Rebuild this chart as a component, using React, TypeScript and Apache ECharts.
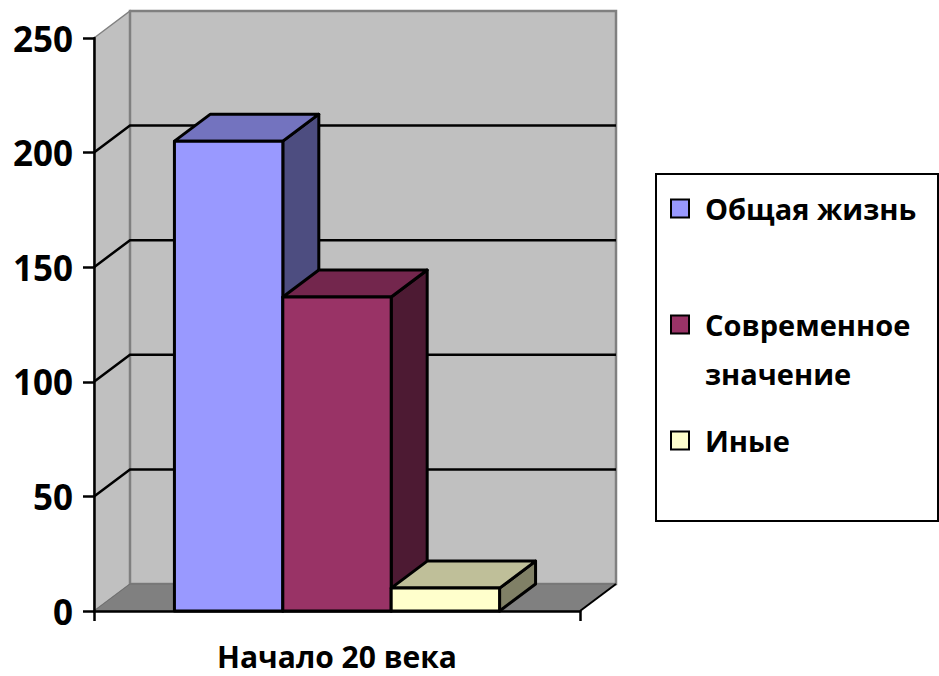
import React, { useEffect, useRef } from "react";
import * as echarts from "echarts";

const categories = ["Начало 20 века"];
const seriesNames = ["Общая жизнь", "Современное значение", "Иные"];
const seriesValues = [205, 137, 10];
const seriesColors = ["#9999FF", "#993366", "#FFFFCC"];
const yTicks = [0, 50, 100, 150, 200, 250];

const FONT = "'Open Sans', 'Noto Sans', sans-serif";
const DX = 36;
const DY = -27;
const GROUP_RATIO = 0.669;

function shade(hex: string, f: number): string {
  const n = parseInt(hex.slice(1), 16);
  const r = Math.round(((n >> 16) & 255) * f);
  const g = Math.round(((n >> 8) & 255) * f);
  const b = Math.round((n & 255) * f);
  return `rgb(${r},${g},${b})`;
}

export default function App() {
  const ref = useRef<HTMLDivElement>(null);
  useEffect(() => {
    if (!ref.current) return;
    const chart = echarts.init(ref.current, undefined, { renderer: "svg" });
    const yMin = yTicks[0];
    const yMax = yTicks[yTicks.length - 1];
    const gridValues = yTicks.filter((v) => v !== yMin && v !== yMax);

    const wallSeries: any = {
      type: "custom",
      silent: true,
      clip: false,
      data: [[0, yMin]],
      renderItem: (params: any, api: any) => {
        const base = api.coord([0, yMin]);
        const top = api.coord([0, yMax]);
        const bw = api.size([1, 0])[0];
        const x0 = base[0] - bw / 2;
        const x1 = base[0] + bw / 2;
        const y0 = base[1];
        const yT = top[1];
        return {
          type: "group",
          children: [
            {
              type: "polygon",
              shape: { points: [[x0, y0], [x0 + DX, y0 + DY], [x0 + DX, yT + DY], [x0, yT]] },
              style: { fill: "#C0C0C0", stroke: "#808080", lineWidth: 1.5 },
            },
            {
              type: "rect",
              shape: { x: x0 + DX, y: yT + DY, width: bw, height: y0 - yT },
              style: { fill: "#C0C0C0", stroke: "#808080", lineWidth: 2.5 },
            },
            {
              type: "polygon",
              shape: { points: [[x0, y0], [x0 + DX, y0 + DY], [x1 + DX, y0 + DY], [x1, y0]] },
              style: { fill: "#808080", stroke: "#707070", lineWidth: 1 },
            },
            {
              type: "line",
              shape: { x1: x1, y1: y0, x2: x1 + DX, y2: y0 + DY },
              style: { stroke: "#000", lineWidth: 2 },
            },
          ],
        };
      },
    };

    const gridSeries: any = {
      type: "custom",
      silent: true,
      clip: false,
      data: gridValues.map((v) => [0, v]),
      renderItem: (params: any, api: any) => {
        const p = api.coord([0, api.value(1)]);
        const bw = api.size([1, 0])[0];
        const x0 = p[0] - bw / 2;
        const x1 = p[0] + bw / 2;
        const y = p[1];
        return {
          type: "polyline",
          shape: { points: [[x0, y], [x0 + DX, y + DY], [x1 + DX, y + DY]] },
          style: { stroke: "#000", lineWidth: 2.5, fill: "none" },
        };
      },
    };

    const barSeries: any[] = seriesNames.map((name, i) => ({
      type: "custom",
      name,
      clip: false,
      itemStyle: { color: seriesColors[i] },
      data: [[0, seriesValues[i]]],
      renderItem: (params: any, api: any) => {
        const c = api.coord([api.value(0), api.value(1)]);
        const b = api.coord([api.value(0), 0]);
        const bandW = api.size([1, 0])[0];
        const groupW = bandW * GROUP_RATIO;
        const w = groupW / seriesNames.length;
        const xl = c[0] - groupW / 2 + i * w;
        const xr = xl + w;
        const yt = c[1];
        const yb = b[1];
        const col = seriesColors[i];
        const stroke = { stroke: "#000", lineWidth: 3, lineJoin: "round" };
        return {
          type: "group",
          children: [
            {
              type: "polygon",
              shape: { points: [[xr, yb], [xr + DX, yb + DY], [xr + DX, yt + DY], [xr, yt]] },
              style: { fill: shade(col, 0.5), ...stroke },
            },
            {
              type: "polygon",
              shape: { points: [[xl, yt], [xl + DX, yt + DY], [xr + DX, yt + DY], [xr, yt]] },
              style: { fill: shade(col, 0.75), ...stroke },
            },
            {
              type: "rect",
              shape: { x: xl, y: yt, width: w, height: yb - yt },
              style: { fill: col, ...stroke },
            },
          ],
        };
      },
    }));

    chart.setOption({
      animation: false,
      backgroundColor: "#ffffff",
      grid: { left: 94, top: 38, width: 486, height: 573, containLabel: false },
      xAxis: {
        type: "category",
        data: categories,
        boundaryGap: true,
        z: 5,
        axisLine: { show: true, lineStyle: { color: "#000", width: 2.5 } },
        axisTick: { show: true, length: 10, lineStyle: { color: "#000", width: 2.5 } },
        axisLabel: {
          margin: 30,
          color: "#000",
          fontFamily: FONT,
          fontWeight: "bold",
          fontSize: 30,
        },
        splitLine: { show: false },
      },
      yAxis: {
        type: "value",
        min: yMin,
        max: yMax,
        interval: 50,
        z: 5,
        axisLine: { show: true, lineStyle: { color: "#000", width: 2.5 } },
        axisTick: { show: true, length: 11, lineStyle: { color: "#000", width: 2.5 } },
        axisLabel: {
          margin: 21,
          color: "#000",
          fontFamily: FONT,
          fontWeight: "bold",
          fontSize: 35,
        },
        splitLine: { show: false },
      },
      legend: {
        orient: "vertical",
        left: 670,
        top: 184,
        padding: 0,
        itemGap: 18,
        itemWidth: 18,
        itemHeight: 18,
        icon: "rect",
        selectedMode: false,
        itemStyle: { borderColor: "#000", borderWidth: 2 },
        textStyle: {
          fontFamily: FONT,
          fontWeight: "bold",
          fontSize: 29,
          color: "#000",
          lineHeight: 49,
          padding: [0, 0, 0, 11],
        },
        formatter: (n: string) => (n.length > 15 ? "\n" + n.replace(" ", "\n") : n),
        data: seriesNames.map((name) => ({ name })),
      },
      graphic: [
        {
          type: "rect",
          left: 655,
          top: 173,
          z: -1,
          shape: { width: 282, height: 347 },
          style: { fill: "#ffffff", stroke: "#000", lineWidth: 2 },
        },
      ],
      series: [wallSeries, gridSeries, ...barSeries],
    });
    return () => chart.dispose();
  }, []);
  return (
    <div
      ref={ref}
      style={{ position: "absolute", left: 0, top: 0, width: 939, height: 676 }}
    />
  );
}
